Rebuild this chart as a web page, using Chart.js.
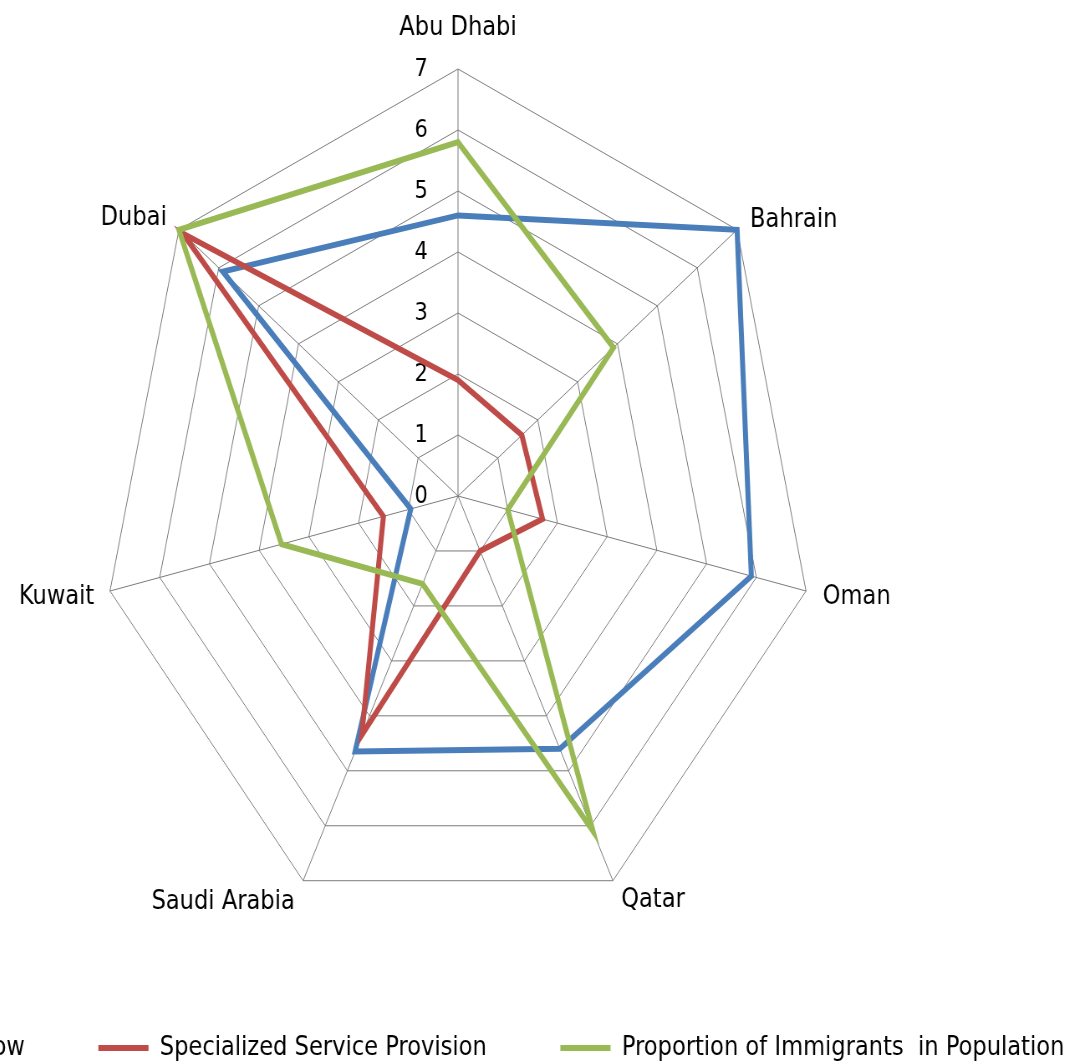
<!DOCTYPE html>
<html><head><meta charset="utf-8">
<script src="https://cdn.jsdelivr.net/npm/chart.js@4/dist/chart.umd.min.js"></script>
<style>
html,body{margin:0;padding:0;background:#fff;overflow:hidden;width:1078px;height:1062px;}
#wrap{position:absolute;left:-378px;top:0;transform:scaleX(0.836);transform-origin:0 0;}
</style></head><body>
<div id="wrap"><canvas id="c" width="2000" height="1100"></canvas></div>
<script>
const categories = ['Abu Dhabi', 'Bahrain', 'Oman', 'Qatar', 'Saudi Arabia', 'Kuwait', 'Dubai'];
const seriesNames = ['FDI Inflow', 'Specialized Service Provision', 'Proportion of Immigrants  in Population'];
const fdiInflow = [4.6, 7.0, 5.9, 4.6, 4.65, 0.95, 5.9];
const specializedService = [1.9, 1.6, 1.7, 1.0, 4.35, 1.5, 6.9];
const immigrantShare = [5.8, 3.9, 1.0, 6.1, 1.6, 3.55, 7.0];
const tickValues = [0, 1, 2, 3, 4, 5, 6, 7];
const seriesColors = ['#4A7EBB', '#BE4B48', '#98B954'];

// text placement of the category labels relative to their outer vertex: [align, dx, dy]
const labelPlacement = [
  ['center', 0, -34],
  ['left', 15.5, -3],
  ['left', 20, 13],
  ['left', 10, 26],
  ['right', -10, 28],
  ['right', -18.8, 13],
  ['right', -14.5, -5]
];

Chart.defaults.font.family = "'DejaVu Sans', sans-serif";
Chart.defaults.color = '#000';

const labelPlugin = {
  id: 'gccLabels',
  beforeDatasetsDraw(chart) {
    const s = chart.scales.r;
    const ctx = chart.ctx;
    ctx.save();
    ctx.fillStyle = '#000';
    ctx.font = "25px 'DejaVu Sans'";
    ctx.textAlign = 'right';
    ctx.textBaseline = 'middle';
    s.ticks.forEach(t => {
      const d = s.getDistanceFromCenterForValue(t.value);
      ctx.fillText(String(t.value), s.xCenter - 36, s.yCenter - d);
    });
    ctx.font = "27px 'DejaVu Sans'";
    ctx.textBaseline = 'alphabetic';
    categories.forEach((name, i) => {
      const p = s.getPointPosition(i, s.drawingArea);
      const pl = labelPlacement[i];
      ctx.textAlign = pl[0];
      ctx.fillText(name, p.x + pl[1], p.y + pl[2]);
    });
    ctx.restore();
  }
};

new Chart(document.getElementById('c'), {
  type: 'radar',
  data: {
    labels: categories,
    datasets: [
      { label: seriesNames[0], data: fdiInflow, borderColor: seriesColors[0], backgroundColor: seriesColors[0], order: 3 },
      { label: seriesNames[1], data: specializedService, borderColor: seriesColors[1], backgroundColor: seriesColors[1], order: 2 },
      { label: seriesNames[2], data: immigrantShare, borderColor: seriesColors[2], backgroundColor: seriesColors[2], order: 1 }
    ]
  },
  options: {
    responsive: false,
    animation: false,
    layout: { padding: { top: 69, bottom: 28.6, left: 0, right: 0 } },
    elements: {
      line: { borderWidth: 6, fill: false, tension: 0 },
      point: { radius: 0, hoverRadius: 0 }
    },
    scales: {
      r: {
        min: 0, max: 7,
        ticks: { display: false, stepSize: 1 },
        pointLabels: { display: false },
        grid: { color: '#7a7a7a', lineWidth: 1 },
        angleLines: { color: '#7a7a7a', lineWidth: 1 }
      }
    },
    plugins: {
      tooltip: { enabled: false },
      legend: {
        position: 'bottom',
        title: { display: true, text: ' ', font: { size: 27, lineHeight: '22.4px' }, padding: 0 },
        labels: {
          font: { size: 27 },
          color: '#000',
          boxWidth: 60,
          boxHeight: 6,
          padding: 88,
          sort: (a, b) => a.datasetIndex - b.datasetIndex,
          generateLabels(chart) {
            const items = Chart.defaults.plugins.legend.labels.generateLabels(chart);
            items.forEach(it => { it.fillStyle = it.strokeStyle; it.lineWidth = 0; });
            return items;
          }
        }
      }
    }
  },
  plugins: [labelPlugin]
});
</script>
</body></html>
